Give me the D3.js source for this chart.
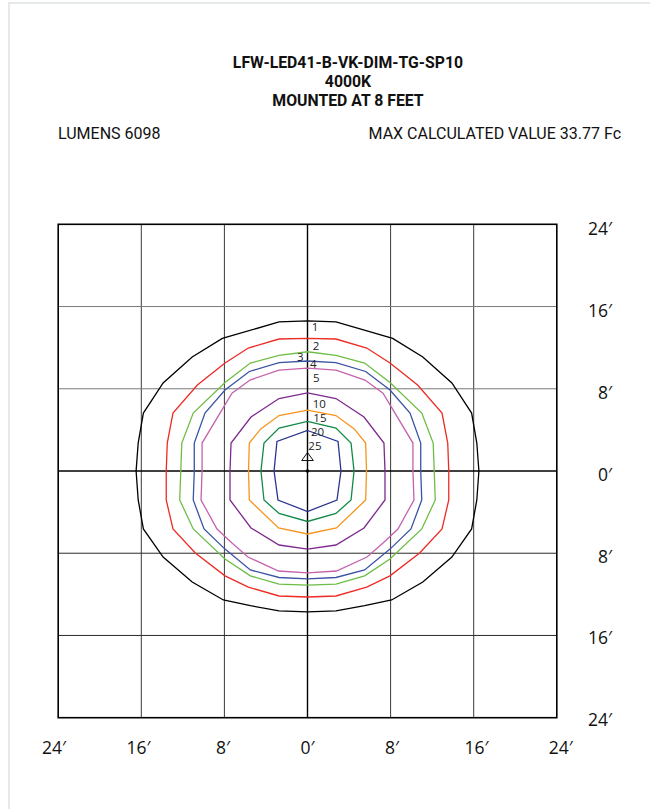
<!DOCTYPE html>
<html>
<head>
<meta charset="utf-8">
<script src="https://cdn.jsdelivr.net/npm/d3@7"></script>
<style>
	body { margin: 0; background: #fff; }
	.title { font-family: Roboto, "Liberation Sans", sans-serif; font-weight: bold; font-size: 15.8px; fill: #111; }
	.info { font-family: Roboto, "Liberation Sans", sans-serif; font-size: 16px; fill: #111; }
	.axislbl { font-family: "Open Sans", "DejaVu Sans", sans-serif; font-size: 17.5px; fill: #111; }
	.lvl { font-family: "Open Sans", "DejaVu Sans", sans-serif; font-size: 11.5px; fill: #222; }
</style>
</head>
<body>
<div id="chartDiv"></div>
<script>
// isolux levels (footcandles) and their line colours
var levels = [1, 2, 3, 4, 5, 10, 15, 20, 25];
var lineColors = ["#000000", "#ee2a24", "#6dbd45", "#3a53a4", "#c462ad", "#7d2a8e", "#f7941d", "#108a45", "#2b3590"];

// right half of every contour, from top centre round to bottom centre.
// [x, y] in feet, fixture at 0,0. left half is the mirror image
var fc1 = [[0, 14.6], [2.74, 14.5], [8.2, 12.9], [11.1, 11.1], [13.9, 8.56], [15.8, 5.64], [16.3, 2.72], [16.5, 0],
	[16.3, -2.82], [15.8, -5.64], [13.9, -8.37], [11.1, -10.8], [8.1, -12.55], [5.5, -13.1], [2.74, -13.6], [0, -13.7]];
var fc2 = [[0, 12.9], [2.74, 12.84], [5.7, 11.96], [7.94, 10.5], [10.6, 8.37], [12.95, 5.64], [13.5, 2.72], [13.6, 0],
	[13.6, -2.82], [12.95, -5.64], [10.8, -7.98], [7.94, -10.2], [5.7, -11.3], [2.74, -12.16], [0, -12.26]];
var fc3 = [[0, 11.6], [2.74, 11.24], [5.5, 10.5], [7.94, 8.6], [11.0, 5.64], [12.1, 2.72], [12.2, 0],
	[12.3, -2.82], [11.0, -5.64], [7.94, -8.56], [5.5, -10.2], [2.74, -11.0], [0, -11.1]];
var fc4 = [[0, 10.7], [2.74, 10.55], [5.6, 9.68], [7.94, 7.88], [9.87, 5.64], [10.9, 2.72], [10.9, 0],
	[11.0, -2.82], [9.96, -5.64], [7.94, -7.6], [5.5, -9.63], [2.74, -10.36], [0, -10.5]];
var fc5 = [[0, 10.0], [2.74, 9.82], [5.53, 8.85], [7.27, 7.56], [10.15, 2.72], [10.15, 0],
	[10.25, -2.82], [8.71, -5.64], [7.27, -7.0], [5.73, -8.37], [2.79, -9.73], [0, -9.92]];
var fc10 = [[0, 7.6], [2.74, 7.05], [5.44, 5.25], [7.36, 2.72], [7.46, 0],
	[7.46, -2.82], [5.44, -5.54], [2.74, -7.2], [0, -7.6]];
var fc15 = [[0, 5.93], [2.74, 5.4], [4.5, 4.1], [5.6, 2.72], [5.68, 0],
	[5.6, -2.82], [2.79, -5.54], [0, -6.13]];
var fc20 = [[0, 4.82], [2.74, 4.18], [4.19, 2.72], [4.48, 0],
	[4.19, -2.82], [2.74, -4.13], [0, -4.91]];
var fc25 = [[0, 3.94], [2.94, 2.87], [3.22, 0], [2.84, -2.82], [0, -3.94]];
var halves = [fc1, fc2, fc3, fc4, fc5, fc10, fc15, fc20, fc25];

// where each level number sits (feet, start of text / baseline)
var labelX = [0.40, 0.50, -1.01, 0.24, 0.53, 0.50, 0.56, 0.34, 0.08];
var labelY = [13.6, 11.77, 10.73, 10.02, 8.69, 6.13, 4.80, 3.40, 2.04];

// grid ticks, feet
var gridTicks = [-24, -16, -8, 0, 8, 16, 24];

var titleLines = ["LFW-LED41-B-VK-DIM-TG-SP10", "4000K", "MOUNTED AT 8 FEET"];
var lumensText = "LUMENS 6098";
var maxText = "MAX CALCULATED VALUE 33.77 Fc";

var mySVGwidth = 650, mySVGheight = 809;
var xScale, yScale;
var chartSVG;

function init() {

	chartSVG = d3.select("#chartDiv").append("svg")
		.attr("width", mySVGwidth)
		.attr("height", mySVGheight)
	;

	// faint page frame
	chartSVG.append("rect")
		.attr("x", 9).attr("y", 3)
		.attr("width", 680).attr("height", 840)
		.attr("fill", "none")
		.attr("stroke", "#e5e9e9")
		.attr("stroke-width", 2)
	;

	xScale = d3.scaleLinear().domain([-24, 24]).range([58.2, 556.8]);
	yScale = d3.scaleLinear().domain([-24, 24]).range([717.7, 224.3]);

	drawTexts();
	drawGrid();
	drawContours();
	drawLabels();
}

function drawTexts() {
	chartSVG.selectAll("text.title")
		.data(titleLines).enter().append("text")
		.attr("class", "title")
		.attr("text-anchor", "middle")
		.attr("x", 348)
		.attr("y", function (d, i) {
			return 68 + i * 19;
		})
		.text(function (d) {
			return d;
		})
	;
	chartSVG.append("text")
		.attr("class", "info")
		.attr("x", 58).attr("y", 139)
		.text(lumensText);
	chartSVG.append("text")
		.attr("class", "info")
		.attr("text-anchor", "end")
		.attr("x", 621).attr("y", 139)
		.text(maxText);
}

function drawGrid() {
	var inner = gridTicks.filter(function (d) {
		return d != 0 && Math.abs(d) != 24;
	});
	var gridG = chartSVG.append("g");

	gridG.selectAll("line.v")
		.data(inner).enter().append("line")
		.attr("x1", function (d) { return xScale(d); })
		.attr("x2", function (d) { return xScale(d); })
		.attr("y1", yScale(24)).attr("y2", yScale(-24))
		.attr("stroke", "#3a3a3a")
		.attr("stroke-width", 1)
	;
	gridG.selectAll("line.h")
		.data(inner).enter().append("line")
		.attr("y1", function (d) { return yScale(d); })
		.attr("y2", function (d) { return yScale(d); })
		.attr("x1", xScale(-24)).attr("x2", xScale(24))
		.attr("stroke", function (d) {
			return d > 0 ? "#7a7a7a" : "#2a2a2a";
		})
		.attr("stroke-width", 1)
	;
	// centre cross
	gridG.append("line")
		.attr("x1", xScale(0)).attr("x2", xScale(0))
		.attr("y1", yScale(24)).attr("y2", yScale(-24))
		.attr("stroke", "#000").attr("stroke-width", 1.4);
	gridG.append("line")
		.attr("y1", yScale(0)).attr("y2", yScale(0))
		.attr("x1", xScale(-24)).attr("x2", xScale(24))
		.attr("stroke", "#000").attr("stroke-width", 1.4);
	// outer box
	gridG.append("rect")
		.attr("x", xScale(-24)).attr("y", yScale(24))
		.attr("width", xScale(24) - xScale(-24))
		.attr("height", yScale(-24) - yScale(24))
		.attr("fill", "none")
		.attr("stroke", "#000")
		.attr("stroke-width", 1.6)
	;

	// right hand labels
	gridG.selectAll("text.ry")
		.data(gridTicks.slice().reverse()).enter().append("text")
		.attr("class", "axislbl")
		.attr("text-anchor", "end")
		.attr("x", 612)
		.attr("y", function (d, i) {
			return yScale(24) + i * (yScale(-24) - yScale(24)) / 6 + 11 - i * 0.4;
		})
		.text(function (d) {
			return Math.abs(d) + "\u2032";
		})
	;
	// bottom labels
	gridG.selectAll("text.bx")
		.data(gridTicks).enter().append("text")
		.attr("class", "axislbl")
		.attr("text-anchor", "middle")
		.attr("x", function (d) {
			return xScale(d) + d * 0.17;
		})
		.attr("y", 754)
		.text(function (d) {
			return Math.abs(d) + "\u2032";
		})
	;
}

function fullRing(half) {
	// mirror the right half to close the ring
	var left = half.slice(1, half.length - 1).reverse().map(function (p) {
		return [-p[0], p[1]];
	});
	return half.concat(left);
}

function drawContours() {
	var ringLine = d3.line()
		.x(function (p) { return xScale(p[0]); })
		.y(function (p) { return yScale(p[1]); })
		.curve(d3.curveLinearClosed)
	;
	chartSVG.append("g").selectAll("path")
		.data(halves).enter().append("path")
		.attr("d", function (d) {
			return ringLine(fullRing(d));
		})
		.attr("fill", "none")
		.attr("stroke", function (d, i) {
			return lineColors[i];
		})
		.attr("stroke-width", 1.3)
		.attr("stroke-linejoin", "miter")
	;
}

function drawLabels() {
	chartSVG.append("g").selectAll("text")
		.data(levels).enter().append("text")
		.attr("class", "lvl")
		.attr("x", function (d, i) { return xScale(labelX[i]); })
		.attr("y", function (d, i) { return yScale(labelY[i]); })
		.text(function (d) { return d; })
	;
	// fixture symbol and centre dot
	chartSVG.append("path")
		.attr("d", "M0,-4.5L5.8,3.5L-5.8,3.5Z")
		.attr("transform", "translate(" + xScale(0) + "," + yScale(1.36) + ")")
		.attr("fill", "none")
		.attr("stroke", "#111")
		.attr("stroke-width", 1)
	;
	chartSVG.append("circle")
		.attr("cx", xScale(0)).attr("cy", yScale(0))
		.attr("r", 1.8)
		.attr("fill", "#000")
	;
}

init();
</script>
</body>
</html>
